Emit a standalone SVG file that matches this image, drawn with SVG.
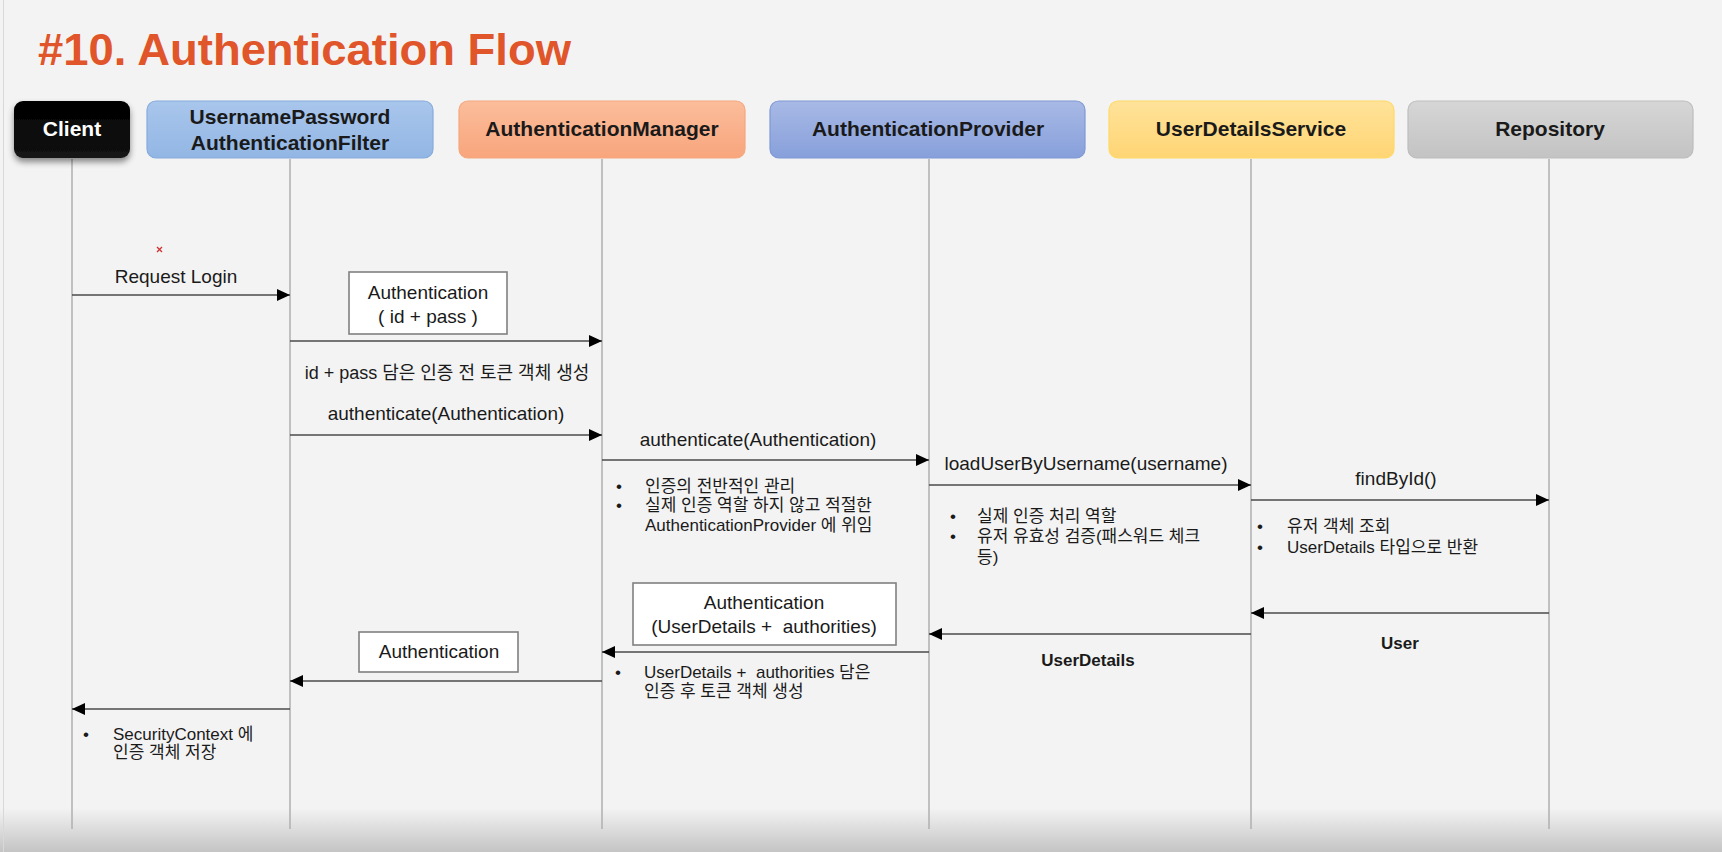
<svg xmlns="http://www.w3.org/2000/svg" width="1722" height="852" viewBox="0 0 1722 852">
<defs>
<style>
text{font-family:'Liberation Sans','Noto Sans CJK KR',sans-serif;fill:#1a1a1a}
.node text{font-weight:bold;font-size:21px;text-anchor:middle}
.lbl{font-size:19px;text-anchor:middle}
.note{font-size:17px}
.bold{font-weight:bold;font-size:17px;text-anchor:middle}
.life{stroke:#b3b3b3;stroke-width:1.6}
.msg{stroke:#4a4a4a;stroke-width:1.7;fill:none;marker-end:url(#ah)}
.box{fill:#fff;stroke:#808080;stroke-width:1.6}
</style>
<marker id="ah" markerUnits="userSpaceOnUse" markerWidth="13" markerHeight="12" refX="13" refY="6" orient="auto"><path d="M0,0 L13,6 L0,12 z" fill="#000"/></marker>
<linearGradient id="gBot" x1="0" y1="0" x2="0" y2="1"><stop offset="0" stop-color="#f3f3f3"/><stop offset="1" stop-color="#c4c4c4"/></linearGradient>
<linearGradient id="gClient" x1="0" y1="0" x2="0" y2="1"><stop offset="0" stop-color="#000"/><stop offset="1" stop-color="#141414"/></linearGradient>
<linearGradient id="gUP" x1="0" y1="0" x2="0" y2="1"><stop offset="0" stop-color="#a9c6ec"/><stop offset="1" stop-color="#92b6e4"/></linearGradient>
<linearGradient id="gAM" x1="0" y1="0" x2="0" y2="1"><stop offset="0" stop-color="#fbbd9b"/><stop offset="1" stop-color="#f8a57c"/></linearGradient>
<linearGradient id="gAP" x1="0" y1="0" x2="0" y2="1"><stop offset="0" stop-color="#a8b9e5"/><stop offset="1" stop-color="#87a0db"/></linearGradient>
<linearGradient id="gUDS" x1="0" y1="0" x2="0" y2="1"><stop offset="0" stop-color="#ffe39a"/><stop offset="1" stop-color="#ffd574"/></linearGradient>
<linearGradient id="gRepo" x1="0" y1="0" x2="0" y2="1"><stop offset="0" stop-color="#d6d6d6"/><stop offset="1" stop-color="#c3c3c3"/></linearGradient>
<filter id="sh" x="-20%" y="-20%" width="140%" height="160%"><feDropShadow dx="0" dy="4" stdDeviation="3" flood-color="#000" flood-opacity="0.45"/></filter>
</defs>
<rect width="1722" height="852" fill="#f3f3f3"/>
<rect x="0" y="808" width="1722" height="44" fill="url(#gBot)"/>
<line x1="3.5" y1="0" x2="3.5" y2="852" stroke="#d8d8d8" stroke-width="1"/>
<text x="38" y="65" font-size="45" font-weight="bold" style="fill:#e0552a" textLength="533" lengthAdjust="spacingAndGlyphs">#10. Authentication Flow</text>

<g id="lifelines">
<line class="life" x1="72" y1="159" x2="72" y2="829"/>
<line class="life" x1="290" y1="159" x2="290" y2="829"/>
<line class="life" x1="602" y1="159" x2="602" y2="829"/>
<line class="life" x1="929" y1="159" x2="929" y2="829"/>
<line class="life" x1="1251" y1="159" x2="1251" y2="829"/>
<line class="life" x1="1549" y1="159" x2="1549" y2="829"/>
</g>

<g id="n-client" class="node"><rect x="14" y="101" width="116" height="57" rx="9" fill="url(#gClient)" filter="url(#sh)"/><text x="72" y="136" style="fill:#fff">Client</text></g>
<g id="n-filter" class="node"><rect x="147" y="101" width="286" height="57" rx="9" fill="url(#gUP)" stroke="#86abdc" stroke-width="1.2"/><text x="290" y="124">UsernamePassword</text><text x="290" y="150">AuthenticationFilter</text></g>
<g id="n-manager" class="node"><rect x="459" y="101" width="286" height="57" rx="9" fill="url(#gAM)" stroke="#f6a77e" stroke-width="1.2"/><text x="602" y="136">AuthenticationManager</text></g>
<g id="n-provider" class="node"><rect x="770" y="101" width="315" height="57" rx="9" fill="url(#gAP)" stroke="#7f98d4" stroke-width="1.2"/><text x="928" y="136">AuthenticationProvider</text></g>
<g id="n-uds" class="node"><rect x="1109" y="101" width="285" height="57" rx="9" fill="url(#gUDS)" stroke="#ffd966" stroke-width="1.2"/><text x="1251" y="136">UserDetailsService</text></g>
<g id="n-repo" class="node"><rect x="1408" y="101" width="285" height="57" rx="9" fill="url(#gRepo)" stroke="#bdbdbd" stroke-width="1.2"/><text x="1550" y="136">Repository</text></g>

<g id="connectors">
<line class="msg" x1="72" y1="295" x2="290" y2="295"/>
<line class="msg" x1="290" y1="341" x2="602" y2="341"/>
<line class="msg" x1="290" y1="435" x2="602" y2="435"/>
<line class="msg" x1="602" y1="460" x2="929" y2="460"/>
<line class="msg" x1="929" y1="485" x2="1251" y2="485"/>
<line class="msg" x1="1251" y1="500" x2="1549" y2="500"/>
<line class="msg" x1="1549" y1="613" x2="1251" y2="613"/>
<line class="msg" x1="1251" y1="634" x2="929" y2="634"/>
<line class="msg" x1="929" y1="652" x2="602" y2="652"/>
<line class="msg" x1="602" y1="681" x2="290" y2="681"/>
<line class="msg" x1="290" y1="709" x2="72" y2="709"/>
</g>

<g id="labels">
<path d="M157,247 L162,252 M162,247 L157,252" stroke="#d03030" stroke-width="1.3"/>
<text class="lbl" x="176" y="283">Request Login</text>
<rect class="box" x="349" y="272" width="158" height="62"/>
<text class="lbl" x="428" y="299">Authentication</text>
<text class="lbl" x="428" y="323">( id + pass )</text>
<text class="lbl" x="447" y="379" font-size="18" style="font-size:18px">id + pass 담은 인증 전 토큰 객체 생성</text>
<text class="lbl" x="446" y="420">authenticate(Authentication)</text>
<text class="lbl" x="758" y="446">authenticate(Authentication)</text>
<text class="lbl" x="1086" y="470">loadUserByUsername(username)</text>
<text class="lbl" x="1396" y="485">findById()</text>

<text class="note" x="616" y="492">•</text><text class="note" x="645" y="492">인증의 전반적인 관리</text>
<text class="note" x="616" y="511">•</text><text class="note" x="645" y="511">실제 인증 역할 하지 않고 적절한</text>
<text class="note" x="645" y="531">AuthenticationProvider 에 위임</text>

<text class="note" x="950" y="522">•</text><text class="note" x="977" y="522">실제 인증 처리 역할</text>
<text class="note" x="950" y="542">•</text><text class="note" x="977" y="542">유저 유효성 검증(패스워드 체크</text>
<text class="note" x="977" y="563">등)</text>

<text class="note" x="1257" y="532">•</text><text class="note" x="1287" y="532">유저 객체 조회</text>
<text class="note" x="1257" y="553">•</text><text class="note" x="1287" y="553">UserDetails 타입으로 반환</text>

<text class="bold" x="1400" y="649">User</text>
<text class="bold" x="1088" y="666">UserDetails</text>

<rect class="box" x="633" y="583" width="263" height="62"/>
<text class="lbl" x="764" y="609">Authentication</text>
<text class="lbl" x="764" y="633" style="white-space:pre">(UserDetails +  authorities)</text>

<text class="note" x="615" y="678">•</text><text class="note" x="644" y="678" style="white-space:pre">UserDetails +  authorities 담은</text>
<text class="note" x="644" y="697">인증 후 토큰 객체 생성</text>

<rect class="box" x="359" y="632" width="159" height="40"/>
<text class="lbl" x="439" y="658">Authentication</text>

<text class="note" x="83" y="740">•</text><text class="note" x="113" y="740">SecurityContext 에</text>
<text class="note" x="113" y="758">인증 객체 저장</text>
</g>
</svg>
